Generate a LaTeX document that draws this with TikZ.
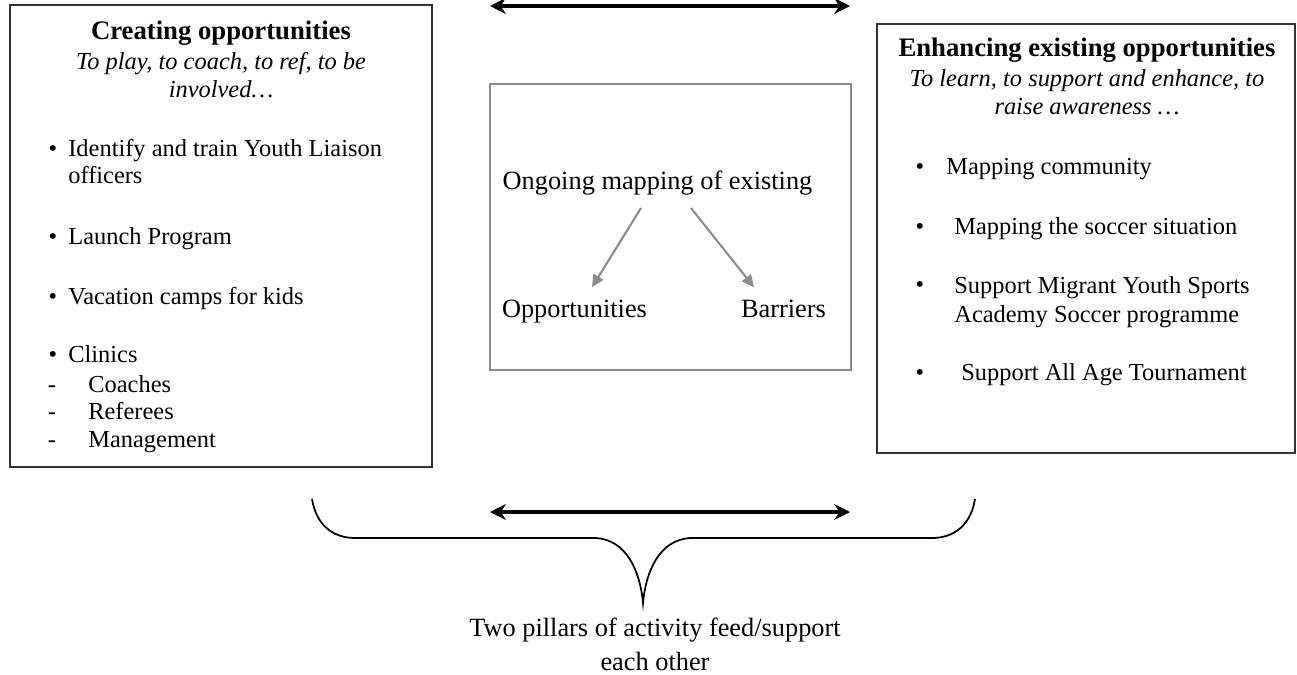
\documentclass[tikz,border=0pt]{standalone}
\usepackage{fontspec}
\setmainfont{Liberation Serif}
\usetikzlibrary{arrows.meta,calc}

\begin{document}
\begin{tikzpicture}[x=0.02cm,y=-0.02cm,
    txt/.style={inner sep=0pt,anchor=base,font=\fontsize{13.9}{15.6}\selectfont},
    item/.style={txt,anchor=base west,align=left},
    head/.style={txt,font=\fontsize{15.2}{18}\selectfont\bfseries},
    sub/.style={txt,align=center,font=\fontsize{13.9}{16.4}\selectfont\itshape},
    mid/.style={txt,font=\fontsize{15}{18.8}\selectfont},
    pillar/.style={draw=black!80,line width=1pt,inner sep=0pt},
    both/.style={{Stealth[length=9pt,width=9pt]}-{Stealth[length=9pt,width=9pt]},line width=2pt},
    grayarrow/.style={-{Triangle[length=7pt,width=6.5pt]},draw=black!45,line width=1.2pt}]
    \useasboundingbox (0,0) rectangle (1297,675);

    % the two pillars and the mapping box
    \node[pillar,minimum width=8.44cm,minimum height=9.24cm] (create) at (221,236) {};
    \node[pillar,minimum width=8.37cm,minimum height=8.58cm] (enhance) at (1086,238.5) {};
    \node[draw=black!45,line width=1.3pt,minimum width=7.22cm,minimum height=5.72cm] (mapbox) at (670.5,227) {};

    \node[head] (ctitle) at (221,40) {Creating opportunities};
    \node[sub] (csub) at (221,98) {To play, to coach, to ref, to be\\involved…};
    \foreach \t/\y/\b [count=\i] in {{Identify and train Youth Liaison\\officers}/157/184, Launch Program/245/245,
        Vacation camps for kids/304/304, Clinics/362/362} {
        \node[txt] (cdot\i) at (53,\y) {\textbullet};
        \node[item] (citem\i) at (68,\b) {\t};
    }
    \foreach \t/\y [count=\i] in {Coaches/392, Referees/419, Management/447} {
        \node[txt] (cdash\i) at (52,\y) {-};
        \node[item] (cclinic\i) at (88,\y) {\t};
    }

    \node[head] (etitle) at (1087,57) {Enhancing existing opportunities};
    \node[sub] (esub) at (1087,115) {To learn, to support and enhance, to\\raise awareness …};
    \foreach \t/\x/\y/\b [count=\i] in {Mapping community/946/175/175, Mapping the soccer situation/954/235/235,
        {Support Migrant Youth Sports\\Academy Soccer programme}/954/293/322, Support All Age Tournament/961/380/380} {
        \node[txt] (edot\i) at (920,\y) {\textbullet};
        \node[item,font=\fontsize{13.9}{16.5}\selectfont] (eitem\i) at (\x,\b) {\t};
    }

    \node[mid] (ongoing) at (657.5,190) {Ongoing mapping of existing};
    \node[mid] (opps) at (574.5,317) {Opportunities};
    \node[mid] (barriers) at (783.5,317) {Barriers};
    \draw[grayarrow] ($(ongoing.south)+(-16.5,12)$) -- ($(opps.north)+(17.5,-12)$);
    \draw[grayarrow] ($(ongoing.south)+(33.5,12)$) -- ($(barriers.north)+(-29.5,-12)$);

    % double arrows between the pillars
    \coordinate (topL) at (490,6);
    \coordinate (topR) at (850,6);
    \coordinate (botL) at (490,512);
    \coordinate (botR) at (850,512);
    \draw[both] (topL) -- (topR);
    \draw[both] (botL) -- (botR);

    % brace
    \draw[line width=1pt] (312,499) .. controls (316,524) and (332,538) .. (355,538) -- (596,538)
        .. controls (626,540) and (640,570) .. (643,603)
        .. controls (646,570) and (660,540) .. (690,538) -- (932,538)
        .. controls (955,538) and (971,524) .. (975,499);
    \node[mid,align=center] (pillars) at (655,670) {Two pillars of activity feed/support\\each other};
\end{tikzpicture}
\end{document}
